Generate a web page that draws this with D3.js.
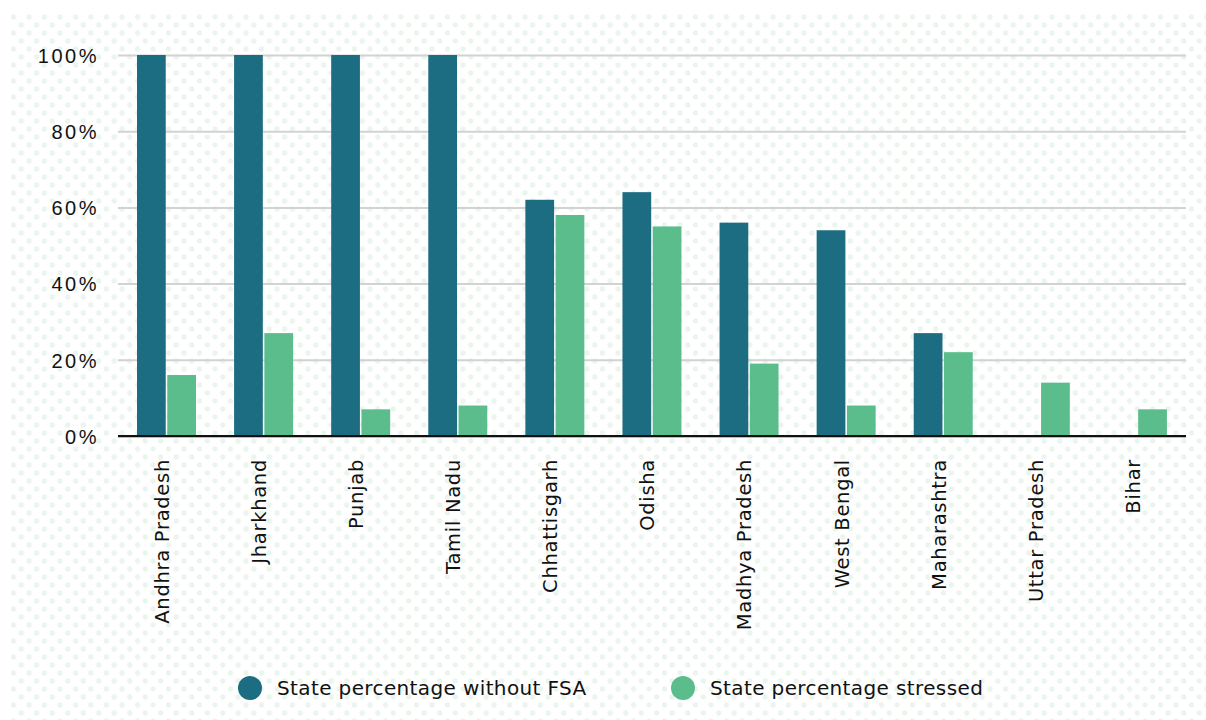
<!DOCTYPE html>
<html>
<head>
<meta charset="utf-8">
<script src="https://cdn.jsdelivr.net/npm/d3@7"></script>
<style>
  body { margin: 0; background: #fff; }
  svg { display: block; font-family: "DejaVu Sans", "Noto Sans", sans-serif; }
</style>
</head>
<body>
<svg id="chart" width="1206" height="720"></svg>
<script>
// Data.
const states = ['Andhra Pradesh', 'Jharkhand', 'Punjab', 'Tamil Nadu', 'Chhattisgarh',
  'Odisha', 'Madhya Pradesh', 'West Bengal', 'Maharashtra', 'Uttar Pradesh', 'Bihar'];
const withoutFSA = [100, 100, 100, 100, 62, 64, 56, 54, 27, 0, 0];
const stressed = [16, 27, 7, 8, 58, 55, 19, 8, 22, 14, 7];
const seriesNames = ['State percentage without FSA', 'State percentage stressed'];
const seriesColours = ['#1d6d82', '#5bbd8c'];
const yTicks = [0, 20, 40, 60, 80, 100];

const rows = states.map((s, i) => ({ state: s, values: [withoutFSA[i], stressed[i]] }));

// 1. Dimensions.
const mLeft = 118, mRight = 1186, mTop = 55, mBottom = 436;
const svg = d3.select('#chart');

// Dotted background.
const defs = svg.append('defs');
const pat = defs.append('pattern')
  .attr('id', 'dots')
  .attr('patternUnits', 'userSpaceOnUse')
  .attr('width', 15.5).attr('height', 16)
  .attr('x', 10).attr('y', 12);
pat.append('circle').attr('cx', 3.5).attr('cy', 5).attr('r', 2.7).attr('fill', '#eaf5ed');
pat.append('circle').attr('cx', 11.25).attr('cy', 13).attr('r', 2.7).attr('fill', '#eaf5ed');
svg.append('rect')
  .attr('x', 10).attr('y', 12)
  .attr('width', 1196).attr('height', 708)
  .attr('fill', 'url(#dots)');

// 2. Scales.
const x0 = d3.scaleBand().domain(states).range([mLeft, mRight]);
const x1 = d3.scaleBand().domain([0, 1]).range([19, 78]).paddingInner(0.05);
const y = d3.scaleLinear().domain([0, 100]).range([mBottom, mTop]);

// 3. Grid and axis.
const yAxis = svg.append('g')
  .attr('transform', `translate(${mLeft},0)`)
  .call(d3.axisLeft(y).tickValues(yTicks).tickSize(-(mRight - mLeft)).tickFormat(d => d + '%'));
yAxis.select('.domain').remove();
yAxis.selectAll('.tick line').attr('stroke', '#d2d2d2').attr('stroke-width', 2);
yAxis.selectAll('.tick text')
  .attr('x', -19).attr('dy', '0.36em')
  .attr('fill', '#111').style('font-size', '20px')
  .style('letter-spacing', '2.5px');

// Bars.
svg.append('g')
  .selectAll('g')
  .data(rows)
  .join('g')
  .attr('transform', d => `translate(${x0(d.state)},0)`)
  .selectAll('rect')
  .data(d => d.values.map((v, i) => ({ v, i })))
  .join('rect')
  .attr('x', d => x1(d.i))
  .attr('width', x1.bandwidth())
  .attr('y', d => y(d.v))
  .attr('height', d => y(0) - y(d.v))
  .attr('fill', d => seriesColours[d.i]);

// Baseline.
svg.append('line')
  .attr('x1', mLeft).attr('x2', mRight)
  .attr('y1', y(0) + 1).attr('y2', y(0) + 1)
  .attr('stroke', '#bbb').attr('stroke-width', 2);
svg.append('line')
  .attr('x1', mLeft).attr('x2', mRight)
  .attr('y1', y(0)).attr('y2', y(0))
  .attr('stroke', '#111').attr('stroke-width', 2);

// Category labels.
svg.append('g')
  .selectAll('text')
  .data(states)
  .join('text')
  .attr('transform', d => `translate(${x0(d) + x0.bandwidth() / 2 - 4.5},459) rotate(-90)`)
  .attr('text-anchor', 'end')
  .attr('dy', '0.35em')
  .attr('fill', '#111')
  .style('font-size', '19.5px')
  .style('letter-spacing', '0.7px')
  .text(d => d);

// Legend.
const legendX = [250, 683];
const legend = svg.append('g')
  .selectAll('g')
  .data(seriesNames)
  .join('g')
  .attr('transform', (d, i) => `translate(${legendX[i]},688)`);
legend.append('circle').attr('r', 12).attr('fill', (d, i) => seriesColours[i]);
legend.append('text')
  .attr('x', 27).attr('dy', '0.35em')
  .attr('fill', '#111')
  .style('font-size', '20px')
  .style('letter-spacing', '0.38px')
  .text(d => d);
</script>
</body>
</html>
